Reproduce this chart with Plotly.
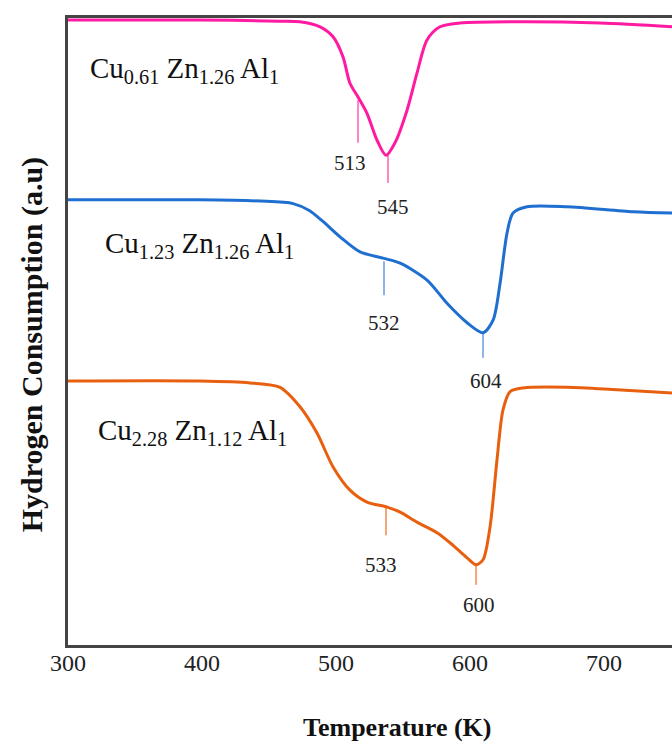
import plotly.graph_objects as go

# Temperature (K) and signal (a.u.)
pink_T = [300, 398.5, 458.2, 473.1, 488.1, 497.8, 505.2, 510.4, 516.4, 523.1, 530.6, 537.3,
          544.0, 553.0, 560.4, 567.9, 577.6, 592.5, 637.3, 697.0, 750.7]
pink_S = [99.7, 99.7, 99.5, 99.4, 98.6, 97.0, 93.8, 89.6, 87.4, 84.8, 80.5, 78.1,
          80.1, 85.3, 91.2, 96.5, 98.6, 99.2, 99.4, 99.2, 98.6]

blue_T = [300, 398.5, 443.3, 468.0, 480.0, 490.0, 503.0, 517.9, 535.1, 547.8, 567.9, 582.8, 597.8,
          609.7, 617.2, 622.4, 627.6, 632.1, 642.5, 672.4, 721.6, 750.7]
blue_S = [71.0, 71.0, 70.8, 70.4, 69.3, 67.6, 65.1, 62.7, 61.7, 60.9, 58.2, 54.5, 51.4,
          49.8, 51.8, 57.7, 65.7, 68.9, 69.9, 69.9, 69.1, 68.9]

orange_T = [300, 398.5, 435.8, 458.2, 473.1, 485.8, 497.8, 510.4, 523.1, 538.1, 547.8, 560.4,
            575.4, 587.3, 597.8, 604.5, 609.7, 614.9, 620.1, 624.6, 629.9, 639.6, 672.4, 709.7, 750.7]
orange_S = [42.1, 42.1, 41.8, 41.1, 38.0, 33.8, 28.4, 24.7, 22.8, 22.0, 21.2, 19.6,
            17.9, 15.9, 13.9, 12.8, 13.6, 18.8, 29.5, 37.5, 40.4, 41.0, 41.1, 40.7, 40.2]

series_names = ["Cu<sub>0.61</sub> Zn<sub>1.26</sub> Al<sub>1</sub>",
                "Cu<sub>1.23</sub> Zn<sub>1.26</sub> Al<sub>1</sub>",
                "Cu<sub>2.28</sub> Zn<sub>1.12</sub> Al<sub>1</sub>"]
series_colors = ["#ff1aa2", "#1f6fd1", "#e8600f"]
marker_colors = ["#ff85c8", "#8db3ea", "#f7a577"]

# Peak markers: series index, position, marker top/bottom, label text, label position
peak_series = [0, 0, 1, 1, 2, 2]
peak_T = [516.4, 538.8, 535.8, 609.7, 537.3, 604.5]
peak_top = [86.9, 78.1, 61.2, 49.8, 21.9, 12.8]
peak_bot = [80.1, 73.7, 55.8, 45.8, 17.5, 9.6]
peak_labels = ["513", "545", "532", "604", "533", "600"]
peak_label_T = [510.4, 542.5, 535.8, 611.9, 533.6, 606.7]
peak_label_S = [76.9, 69.9, 51.4, 42.1, 12.8, 6.4]

name_T = [314.9, 326.1, 320.9]
name_S = [91.7, 63.8, 34.0]

x_ticks = [300, 400, 500, 600, 700]

fig = go.Figure()

for i in range(len(peak_T)):
    fig.add_trace(go.Scatter(x=[peak_T[i], peak_T[i]], y=[peak_top[i], peak_bot[i]],
                             mode="lines", line=dict(color=marker_colors[peak_series[i]], width=2),
                             showlegend=False, hoverinfo="skip"))

for T, S, c in [(pink_T, pink_S, series_colors[0]), (blue_T, blue_S, series_colors[1]),
                (orange_T, orange_S, series_colors[2])]:
    fig.add_trace(go.Scatter(x=T, y=S, mode="lines",
                             line=dict(color=c, width=3, shape="spline", smoothing=0.8),
                             showlegend=False))

serif = "Liberation Serif, Times New Roman, serif"
ann = []
for i in range(len(peak_labels)):
    ann.append(dict(x=peak_label_T[i], y=peak_label_S[i], text=peak_labels[i], showarrow=False,
                    font=dict(family=serif, size=21, color="#222"), xanchor="center", yanchor="middle"))
for i in range(3):
    ann.append(dict(x=name_T[i], y=name_S[i], text=series_names[i], showarrow=False,
                    font=dict(family=serif, size=29, color="#111"), xanchor="left", yanchor="middle"))
ann.append(dict(xref="paper", yref="paper", x=0.545, y=-0.131, text="<b>Temperature (K)</b>",
                showarrow=False, font=dict(family=serif, size=26, color="#111"),
                xanchor="center", yanchor="middle"))
ann.append(dict(xref="paper", yref="paper", x=-0.0596, y=0.478, text="<b>Hydrogen Consumption (a.u)</b>",
                showarrow=False, textangle=-90, font=dict(family=serif, size=30, color="#111"),
                xanchor="center", yanchor="middle"))

fig.update_layout(
    width=672, height=743,
    margin=dict(l=68, r=0, t=18, b=98),
    plot_bgcolor="white", paper_bgcolor="white",
    annotations=ann,
    xaxis=dict(range=[300, 750.7], tickvals=x_ticks, ticktext=[str(v) for v in x_ticks],
               showgrid=False, zeroline=False, showline=True, linecolor="#444", linewidth=3,
               mirror=True, ticks="", ticklabelstandoff=-6,
               tickfont=dict(family=serif, size=24, color="#222")),
    yaxis=dict(range=[0, 100], showticklabels=False, showgrid=False, zeroline=False,
               showline=True, linecolor="#444", linewidth=3, ticks=""),
)

fig.write_html("out.html", config={"displayModeBar": False},
               post_script="document.body.style.margin='0';document.body.style.overflow='hidden';")
